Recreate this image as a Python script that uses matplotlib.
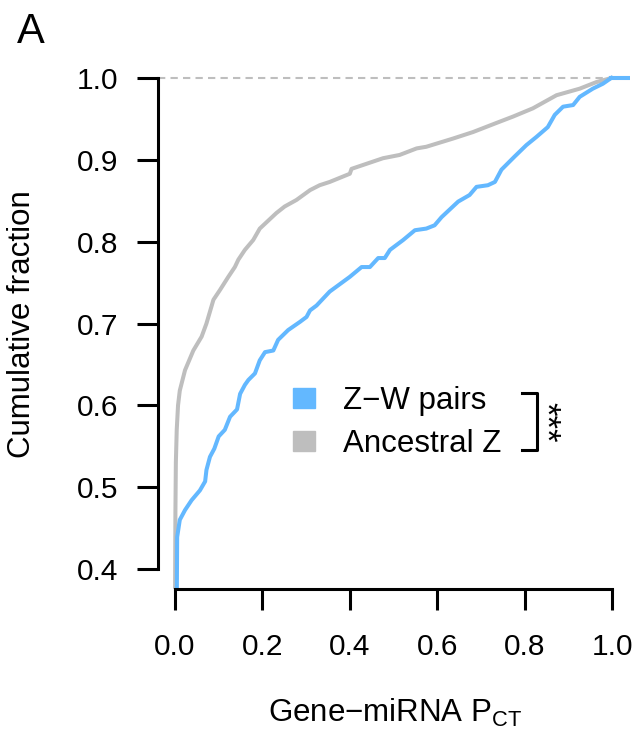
import numpy as np
import matplotlib
matplotlib.use('Agg')
import matplotlib.pyplot as plt
from matplotlib.patches import Patch

plt.rcParams['font.family'] = ['Liberation Sans', 'DejaVu Sans']
plt.rcParams['mathtext.fontset'] = 'custom'
plt.rcParams['mathtext.rm'] = 'Liberation Sans'
plt.rcParams['mathtext.it'] = 'Liberation Sans:italic'

BLUE = '#63B8FF'
GREY = '#BEBEBE'
FS = 22.5

# cumulative fraction of genes vs miRNA P_CT (ECDF, read as step points)
zw_pct = [0.004, 0.005, 0.011, 0.023, 0.038, 0.057, 0.069, 0.072, 0.08, 0.09,
          0.1, 0.114, 0.126, 0.142, 0.149, 0.16, 0.168, 0.183, 0.194, 0.206,
          0.225, 0.236, 0.259, 0.286, 0.301, 0.309, 0.324, 0.354, 0.40, 0.427,
          0.446, 0.465, 0.48, 0.492, 0.522, 0.549, 0.575, 0.594, 0.61, 0.648,
          0.674, 0.69, 0.716, 0.732, 0.747, 0.777, 0.804, 0.827, 0.853, 0.869,
          0.888, 0.911, 0.926, 0.956, 0.979, 0.998]
zw_frac = [0.35, 0.439, 0.46, 0.472, 0.484, 0.496, 0.507, 0.521, 0.537, 0.547,
           0.562, 0.570, 0.586, 0.595, 0.614, 0.625, 0.631, 0.639, 0.655, 0.665,
           0.667, 0.680, 0.692, 0.702, 0.708, 0.716, 0.722, 0.739, 0.757, 0.769,
           0.769, 0.780, 0.780, 0.790, 0.802, 0.814, 0.816, 0.820, 0.830, 0.849,
           0.857, 0.867, 0.869, 0.873, 0.888, 0.904, 0.918, 0.928, 0.940, 0.955,
           0.965, 0.967, 0.977, 0.987, 0.993, 1.0]

anc_pct = [0.0, 0.001, 0.002, 0.004, 0.007, 0.011, 0.023, 0.042, 0.061, 0.072,
           0.088, 0.103, 0.122, 0.137, 0.145, 0.16, 0.179, 0.194, 0.21, 0.232,
           0.251, 0.278, 0.309, 0.331, 0.354, 0.40, 0.404, 0.476, 0.514, 0.553,
           0.575, 0.636, 0.682, 0.735, 0.774, 0.819, 0.873, 0.926, 0.964, 0.998]
anc_frac = [0.35, 0.47, 0.53, 0.57, 0.60, 0.618, 0.643, 0.667, 0.684, 0.700,
            0.729, 0.741, 0.757, 0.769, 0.778, 0.790, 0.802, 0.816, 0.824, 0.835,
            0.843, 0.851, 0.863, 0.869, 0.873, 0.883, 0.889, 0.902, 0.906, 0.914,
            0.916, 0.926, 0.934, 0.945, 0.953, 0.963, 0.979, 0.987, 0.995, 1.0]

x_ticks = [0.0, 0.2, 0.4, 0.6, 0.8, 1.0]
y_ticks = [0.4, 0.5, 0.6, 0.7, 0.8, 0.9, 1.0]
labels = ['Z\u2212W pairs', 'Ancestral Z']

fig = plt.figure(figsize=(6.37, 7.35), dpi=100)
ax = fig.add_axes([157.5 / 637, 1 - 588.6 / 735, 472 / 637, 530.2 / 735])
ax.set_xlim(-0.04, 1.04)
ax.set_ylim(0.376, 1.024)

ax.axhline(1.0, color=GREY, lw=1.5, dashes=(3.5, 2.5), zorder=1)
for xs, ys, col in [(anc_pct, anc_frac, GREY), (zw_pct, zw_frac, BLUE)]:
    ax.plot(xs, ys, color=col, lw=2.9, solid_joinstyle='round', zorder=2)
    # ECDF stays at its last value out to the plot edge
    ax.plot([xs[-1], ax.get_xlim()[1]], [ys[-1], ys[-1]], color=col, lw=2.9, zorder=2)

for side in ['top', 'right']:
    ax.spines[side].set_visible(False)
for side in ['left', 'bottom']:
    ax.spines[side].set_linewidth(2.2)
ax.spines['left'].set_bounds(0.4, 1.0)
ax.spines['bottom'].set_bounds(0.0, 1.0)
ax.set_xticks(x_ticks)
ax.set_yticks(y_ticks)
ax.set_xticklabels(['%.1f' % v for v in x_ticks])
ax.set_yticklabels(['%.1f' % v for v in y_ticks])
ax.tick_params(length=15, width=2.2, labelsize=21.5, direction='out')
ax.tick_params(axis='x', pad=17)
ax.tick_params(axis='y', pad=13)

fig.text(22 / 637, 1 - 324 / 735, 'Cumulative fraction', rotation=90,
         ha='center', va='center', fontsize=FS)
fig.text(395 / 637, 1 - 713 / 735, 'Gene\u2212miRNA P$_{\\mathrm{CT}}$',
         ha='center', va='center', fontsize=FS)
fig.text(17 / 637, 1 - 43 / 735, 'A', fontsize=30, va='baseline')

handles = [Patch(color=BLUE), Patch(color=GREY)]
ax.legend(handles, labels, loc='upper left', bbox_to_anchor=(0.26, 0.405),
          frameon=False, fontsize=FS, handlelength=0.7, handleheight=0.6,
          handletextpad=0.9, labelspacing=0.4, borderaxespad=0)

# significance bracket
bx, btop, bbot, bl = 0.804, 0.369, 0.261, 0.772
ax.plot([bl, bx, bx, bl], [btop, btop, bbot, bbot], color='black', lw=2.2,
        transform=ax.transAxes, clip_on=False)
ax.text(0.822, 0.314, '***', rotation=-90, ha='center', va='center',
        fontsize=25, transform=ax.transAxes)

fig.savefig('out.png', dpi=100)
